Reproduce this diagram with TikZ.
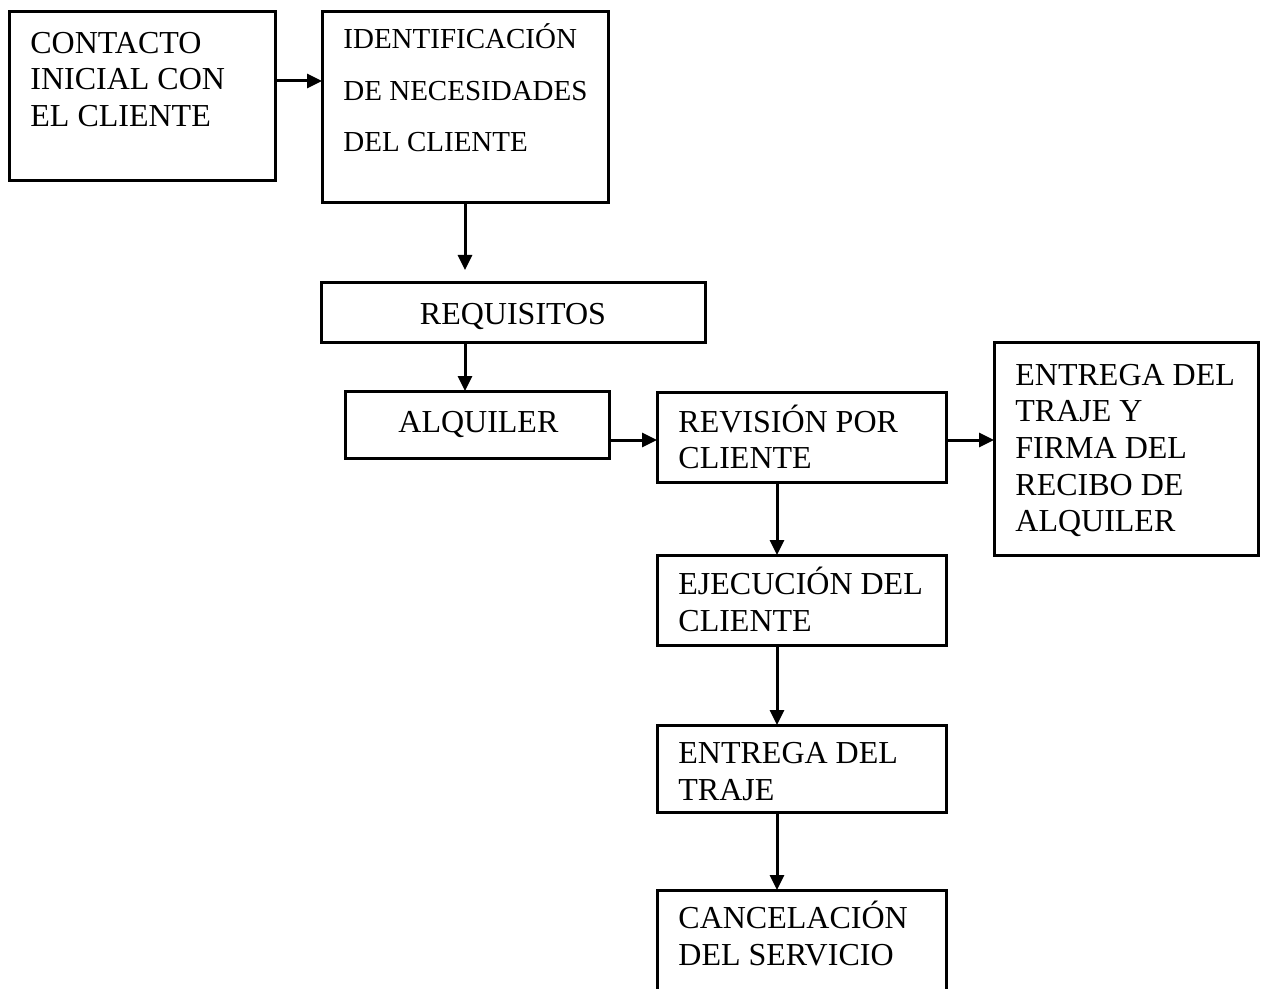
\documentclass[tikz,border=0pt]{standalone}
\usepackage{fontspec}
\setmainfont{Liberation Serif}
\usetikzlibrary{arrows.meta}
\begin{document}
\begin{tikzpicture}[x=0.5pt,y=-0.5pt,
  box/.style={draw,line width=1.5pt,inner sep=0pt,outer sep=0pt,anchor=north west},
  lbl/.style={anchor=base west,inner sep=0pt,align=left,font=\fontsize{16}{18.35}\selectfont},
  lblsmall/.style={anchor=base west,inner sep=0pt,align=left,font=\fontsize{14.5}{25.75}\selectfont},
  arr/.style={line width=1.5pt,-{Triangle[length=7.5pt,width=7pt]}}]
\useasboundingbox (0,0) rectangle (1262,989);
\clip (0,0) rectangle (1262,989);
% boxes
\node[box,minimum width=133pt,minimum height=84.5pt] (c1) at (9,12) {};
\node[box,minimum width=143pt,minimum height=95.5pt] (c2) at (322,12) {};
\node[box,minimum width=192pt,minimum height=30pt] (c3) at (321,283) {};
\node[box,minimum width=132pt,minimum height=33.5pt] (c4) at (345,391) {};
\node[box,minimum width=144.5pt,minimum height=45pt] (c5) at (657,392) {};
\node[box,minimum width=132pt,minimum height=106pt] (c6) at (994,343) {};
\node[box,minimum width=144.5pt,minimum height=45pt] (c7) at (657,555) {};
\node[box,minimum width=144.5pt,minimum height=43.5pt] (c8) at (657,725) {};
\node[box,minimum width=144.5pt,minimum height=60pt] (c9) at (657,890) {};
% labels (anchor = baseline of the last line)
\node[lbl] (t1) at (30,126.5) {CONTACTO\\INICIAL CON\\EL CLIENTE};
\node[lblsmall] (t2) at (343,152) {IDENTIFICACIÓN\\DE NECESIDADES\\DEL CLIENTE};
\node[lbl,anchor=base] (t3) at (513,324.5) {REQUISITOS};
\node[lbl] (t4) at (398,432.5) {ALQUILER};
\node[lbl] (t5) at (678,468.7) {REVISIÓN POR\\CLIENTE};
\node[lbl] (t6) at (1015,531.8) {ENTREGA DEL\\TRAJE Y\\FIRMA DEL\\RECIBO DE\\ALQUILER};
\node[lbl] (t7) at (678,631.2) {EJECUCIÓN DEL\\CLIENTE};
\node[lbl] (t8) at (678,800.2) {ENTREGA DEL\\TRAJE};
\node[lbl] (t9) at (678,965.2) {CANCELACIÓN\\DEL SERVICIO};
% helper coordinates
\coordinate (r1) at (0,81);
\coordinate (r2) at (0,440);
\coordinate (vx) at (777,0);
% connectors
\draw[arr] (c1.east |- r1) -- (c2.west |- r1);
\draw[arr,shorten >=6.5pt] (c2.south) -- (c2.south |- c3.north);
\draw[arr] (c2.south |- c3.south) -- (c2.south |- c4.north);
\draw[arr] (c4.east |- r2) -- (c5.west |- r2);
\draw[arr] (c5.east |- r2) -- (c6.west |- r2);
\draw[arr] (vx |- c5.south) -- (vx |- c7.north);
\draw[arr] (vx |- c7.south) -- (vx |- c8.north);
\draw[arr] (vx |- c8.south) -- (vx |- c9.north);
\end{tikzpicture}
\end{document}
